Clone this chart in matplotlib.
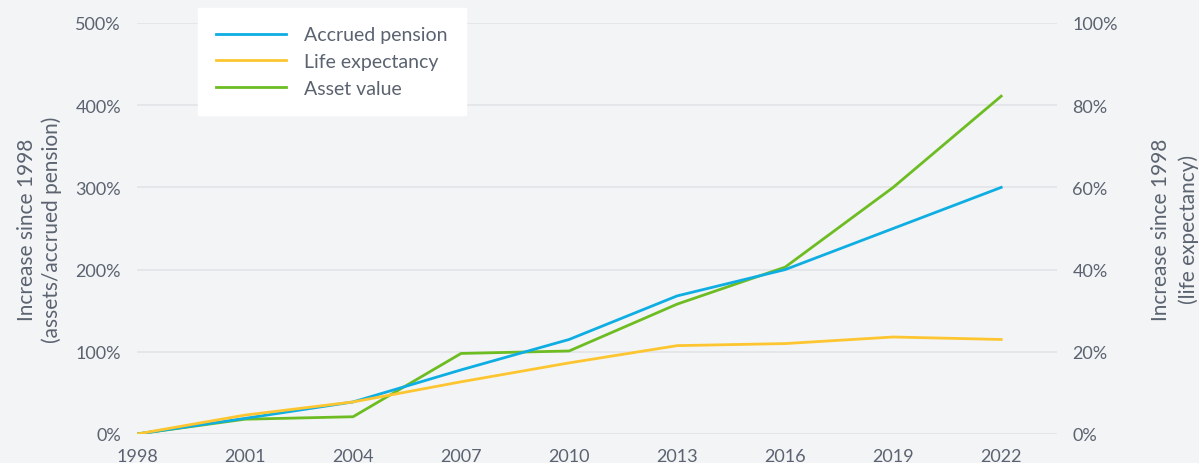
import matplotlib
matplotlib.use('Agg')
import matplotlib.pyplot as plt
from matplotlib.ticker import FuncFormatter

BG_COLOR    = "#f3f4f6"
GRID_COLOR  = "#e3e5e8"
TEXT_COLOR  = "#5b6370"
BLUE        = "#0eaee3"
YELLOW      = "#fdc630"
GREEN       = "#6dbd22"

plt.rcParams['font.family'] = ['Lato', 'DejaVu Sans']

# ── Data (percent increase since 1998) ────────────────────────────────────────
years           = [1998, 2001, 2004, 2007, 2010, 2013, 2016, 2019, 2022]
accrued_pension = [0, 19, 39, 78, 115, 168, 200, 250, 300]
asset_value     = [0, 18, 21, 98, 101, 158, 203, 300, 411]
life_expectancy = [0, 4.6, 7.8, 12.7, 17.3, 21.5, 22.0, 23.6, 23.0]

left_ticks  = [0, 100, 200, 300, 400, 500]
right_ticks = [0, 20, 40, 60, 80, 100]

fig = plt.figure(figsize=(11.99, 4.64), dpi=100, facecolor=BG_COLOR)
ax = fig.add_axes([137/1199, 1 - 435/464, (1057 - 137)/1199, (435 - 24)/464])
ax.set_facecolor(BG_COLOR)

l_green, = ax.plot(years, asset_value, color=GREEN, linewidth=2.0,
                   label='Asset value', zorder=3)
l_blue, = ax.plot(years, accrued_pension, color=BLUE, linewidth=2.0,
                  label='Accrued pension', zorder=4)

ax.set_xlim(1998, 2023.55)
ax.set_ylim(0, 500)
ax.set_xticks(years)
ax.set_yticks(left_ticks)
ax.yaxis.set_major_formatter(FuncFormatter(lambda v, p: f"{v:.0f}%"))
ax.grid(True, axis='y', color=GRID_COLOR, linewidth=1.3, zorder=0)
ax.set_axisbelow(True)
for s in ax.spines.values():
    s.set_visible(False)
ax.tick_params(axis='both', length=0, labelsize=13, labelcolor=TEXT_COLOR)
ax.tick_params(axis='y', pad=11.5)
ax.tick_params(axis='x', pad=10)
ax.set_ylabel("Increase since 1998\n(assets/accrued pension)", fontsize=15,
              color=TEXT_COLOR, labelpad=10, linespacing=1.25)

ax2 = ax.twinx()
l_yellow, = ax2.plot(years, life_expectancy, color=YELLOW, linewidth=2.0,
                     label='Life expectancy', zorder=5)
ax2.set_ylim(0, 100)
ax2.set_yticks(right_ticks)
ax2.yaxis.set_major_formatter(FuncFormatter(lambda v, p: f"{v:.0f}%"))
for s in ax2.spines.values():
    s.set_visible(False)
ax2.tick_params(axis='y', length=0, labelsize=13, labelcolor=TEXT_COLOR, pad=11)
ax2.set_ylabel("Increase since 1998\n(life expectancy)", fontsize=15,
               color=TEXT_COLOR, rotation=90, labelpad=24, linespacing=1.45)

leg = fig.legend(handles=[l_blue, l_yellow, l_green],
                 loc='upper left', bbox_to_anchor=(198/1199, 1 - 9/464),
                 fontsize=14, frameon=True, fancybox=False,
                 handlelength=3.6, handletextpad=0.9, labelspacing=0.5,
                 borderpad=0.95, borderaxespad=0)
leg.get_frame().set_facecolor('white')
leg.get_frame().set_edgecolor('white')
leg.get_frame().set_alpha(1)
for t in leg.get_texts():
    t.set_color(TEXT_COLOR)

fig.savefig("out.png", dpi=100, facecolor=BG_COLOR)
